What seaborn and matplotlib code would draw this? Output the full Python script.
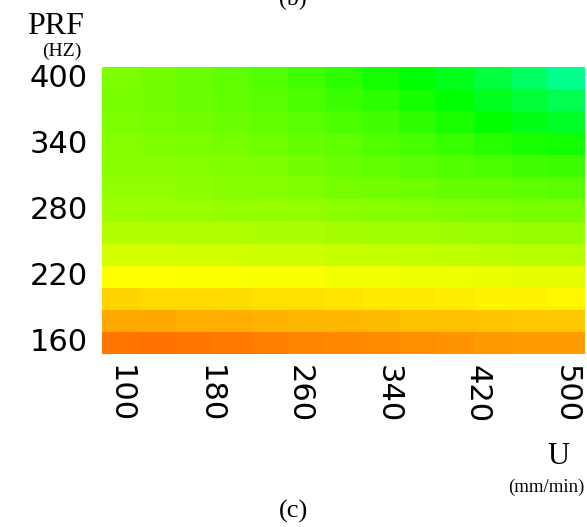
import numpy as np
import pandas as pd
import matplotlib
matplotlib.use("Agg")
import matplotlib.pyplot as plt
from matplotlib.colors import ListedColormap, hsv_to_rgb
import seaborn as sns

# Scan speed U (mm/min) along columns, pulse repetition frequency PRF (Hz) along rows
u_values = [100, 133, 167, 200, 233, 267, 300, 333, 367, 400, 433, 467, 500]
prf_values = [400, 380, 360, 340, 320, 300, 280, 260, 240, 220, 200, 180, 160]

# Response level per cell (hue scale, degrees), rows from PRF 400 down to 160
level_400 = [91, 93, 95, 98, 101, 105, 110, 115, 120, 126, 134, 143, 153]
level_380 = [92, 93, 95, 97, 99, 102, 106, 110, 115, 120, 127, 133, 139]
level_360 = [91, 92, 93, 95, 97, 99, 102, 105, 109, 114, 119, 125, 129]
level_340 = [89, 90, 91, 92, 94, 96, 98, 101, 104, 107, 111, 114, 116]
level_320 = [88, 88, 89, 90, 91, 93, 95, 97, 99, 101, 103, 105, 106]
level_300 = [86, 86, 87, 88, 89, 90, 92, 93, 94, 96, 97, 98, 99]
level_280 = [83, 84, 84, 85, 85, 86, 87, 88, 89, 90, 91, 92, 92]
level_260 = [78, 78, 79, 79, 80, 80, 81, 82, 82, 83, 84, 85, 85]
level_240 = [70, 70, 71, 71, 72, 72, 73, 74, 74, 75, 76, 77, 77]
level_220 = [60, 60, 61, 61, 62, 62, 63, 63, 64, 64, 65, 66, 66]
level_200 = [50, 51, 51, 52, 53, 53, 54, 55, 55, 56, 57, 57, 58]
level_180 = [40, 40, 41, 41, 42, 43, 43, 44, 45, 45, 46, 47, 47]
level_160 = [28, 27, 28, 29, 30, 31, 32, 33, 34, 35, 36, 37, 37]

x_tick_values = [100, 180, 260, 340, 420, 500]

levels = pd.DataFrame(
    [level_400, level_380, level_360, level_340, level_320, level_300, level_280,
     level_260, level_240, level_220, level_200, level_180, level_160],
    index=prf_values, columns=u_values,
)

# Fully saturated hue ramp: orange -> yellow -> green -> spring green
hue_lo, hue_hi = 0.0, 180.0
hues = np.linspace(hue_lo, hue_hi, 512) / 360.0
cmap = ListedColormap(hsv_to_rgb(np.column_stack([hues, np.ones_like(hues), np.ones_like(hues)])))

fig = plt.figure(figsize=(5.87, 5.27), dpi=100)
ax = fig.add_axes([0.1738, 0.3283, 0.8228, 0.5446])

sns.heatmap(levels, ax=ax, cmap=cmap, vmin=hue_lo, vmax=hue_hi, cbar=False,
            xticklabels=False, yticklabels=3, linewidths=0)

# x tick positions follow the column scale of U
u_step = (u_values[-1] - u_values[0]) / (len(u_values) - 1)
xpos = [0.5 + (u - u_values[0]) / u_step for u in x_tick_values]
ax.set_xticks(xpos)
ax.set_xticklabels([str(v) for v in x_tick_values], rotation=270,
                   fontsize=22, family="DejaVu Sans", va="top", ha="center")
ax.set_yticklabels(ax.get_yticklabels(), rotation=0, fontsize=22, family="DejaVu Sans")
ax.tick_params(axis="both", length=0)
ax.tick_params(axis="x", pad=8)
ax.tick_params(axis="y", pad=10)
ax.set_xlabel("")
ax.set_ylabel("")

serif = "Liberation Serif"
fig.text(56 / 587, 1 - 27 / 527, "PRF", fontsize=23, family=serif, ha="center", va="center")
fig.text(62 / 587, 1 - 51 / 527, "(HZ)", fontsize=14, family=serif, ha="center", va="center")
fig.text(558 / 587, 1 - 456 / 527, "U", fontsize=22, family=serif, ha="center", va="center")
fig.text(546 / 587, 1 - 487 / 527, "(mm/min)", fontsize=13.5, family=serif, ha="center", va="center")
fig.text(294 / 587, 1 - 511 / 527, "(c)", fontsize=19, family=serif, ha="center", va="center")
fig.text(293 / 587, 1 + 1 / 527, "(b)", fontsize=17, family=serif, ha="center", va="center")

fig.savefig("out.png", dpi=100)
